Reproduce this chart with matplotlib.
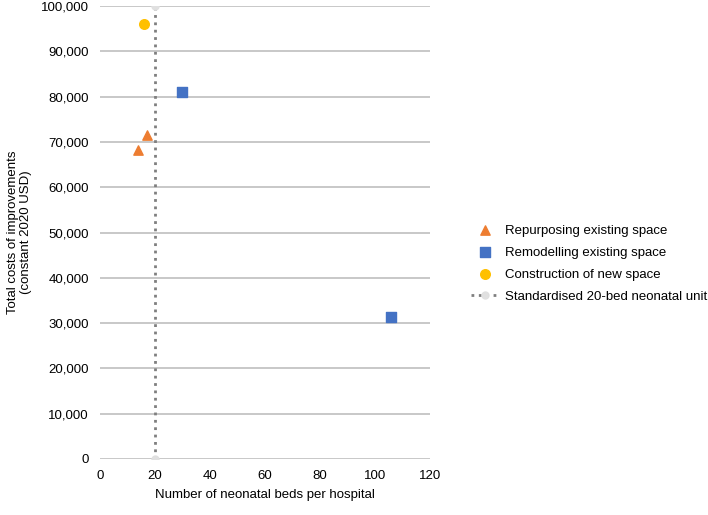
import matplotlib.pyplot as plt
from matplotlib.ticker import FuncFormatter

plt.rcParams["font.family"] = ["Liberation Sans", "DejaVu Sans"]

# Data
repurpose_beds = [14, 17]
repurpose_cost = [68300, 71600]
remodel_beds = [30, 106]
remodel_cost = [81000, 31400]
construct_beds = [16]
construct_cost = [96000]
standard_beds = [20, 20]
standard_cost = [0, 100000]

x_ticks = [0, 20, 40, 60, 80, 100, 120]
y_ticks = list(range(0, 100001, 10000))

fig = plt.figure(figsize=(7.08, 5.15), dpi=100)
ax = fig.add_axes([0.141, 0.109, 0.466, 0.879])

ax.plot(standard_beds, standard_cost, linestyle=":", color="#7f7f7f",
        linewidth=2, marker="o", markersize=5, markerfacecolor="#e0e0e0",
        markeredgecolor="#e0e0e0", label="Standardised 20-bed neonatal unit",
        zorder=3)
ax.scatter(repurpose_beds, repurpose_cost, marker="^", s=45, color="#ED7D31",
           label="Repurposing existing space", zorder=4)
ax.scatter(remodel_beds, remodel_cost, marker="s", s=42, color="#4472C4",
           label="Remodelling existing space", zorder=4)
ax.scatter(construct_beds, construct_cost, marker="o", s=48, color="#FFC000",
           label="Construction of new space", zorder=4)

ax.set_xlim(0, 120)
ax.set_ylim(0, 100000)
ax.set_xticks(x_ticks)
ax.set_yticks(y_ticks)
ax.yaxis.set_major_formatter(FuncFormatter(lambda v, p: f"{int(v):,}"))
ax.tick_params(length=0, labelsize=9.5, pad=8)
ax.grid(axis="y", color="#bfbfbf", linewidth=1.2)
ax.set_axisbelow(True)
for s in ax.spines.values():
    s.set_visible(False)

ax.set_xlabel("Number of neonatal beds per hospital", fontsize=9.5, labelpad=5)
ax.set_ylabel("Total costs of improvements\n(constant 2020 USD)", fontsize=9.5,
              labelpad=6)

handles, labels = ax.get_legend_handles_labels()
order = [1, 2, 3, 0]
fig.legend([handles[i] for i in order], [labels[i] for i in order],
           loc="center left", bbox_to_anchor=(0.648, 0.488), frameon=False,
           fontsize=9.5, handlelength=2.2, handletextpad=0.4, labelspacing=0.75)

fig.savefig("out.png", dpi=100)
